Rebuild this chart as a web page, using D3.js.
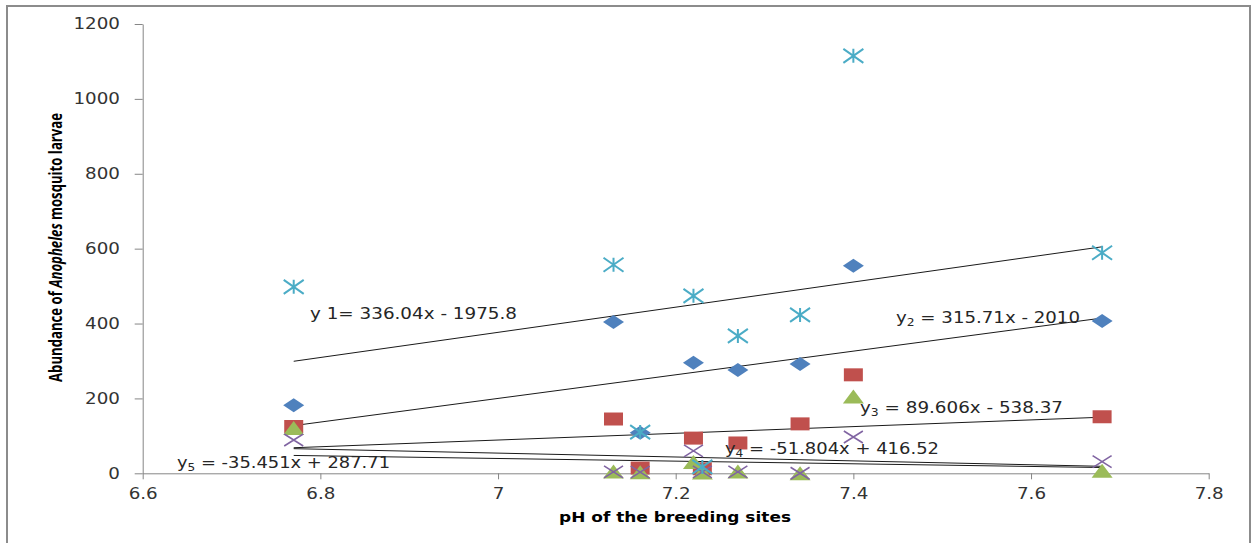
<!DOCTYPE html>
<html>
<head>
<meta charset="utf-8">
<script src="https://cdn.jsdelivr.net/npm/d3@7"></script>
<style>
  html, body { margin: 0; padding: 0; background: #fff; }
  svg { display: block; }
</style>
</head>
<body>
<svg id="chart" width="1259" height="543"></svg>
<script>
'use strict';

// pH of each breeding site (x)
const phSites = [6.77, 7.13, 7.16, 7.22, 7.23, 7.27, 7.34, 7.40, 7.68];

// larval abundance per series
const diamondVals = [182, 404, 108, 295, null, 276, 292, 554, 407];
const squareVals = [125, 145, 14, 94, 12, 81, 132, 263, 151];
const triangleVals = [121, 5, 3, 30, 2, 5, 0, 205, 7];
const crossVals = [89, 4, 3, 60, 4, 4, 0, 97, 31];
const starVals = [498, 557, 110, 474, 17, 367, 423, 1115, 589];

// trendlines: slope, intercept, label parts
const trendSlopes = [336.04, 315.71, 89.606, -51.804, -35.451];
const trendIntercepts = [-1975.8, -2010, -538.37, 416.52, 287.71];
const trendLabels = [
  ['y 1= 336.04x - 1975.8', ''],
  ['y', '2', ' = 315.71x - 2010'],
  ['y', '3', ' = 89.606x - 538.37'],
  ['y', '4', ' = -51.804x + 416.52'],
  ['y', '5', ' = -35.451x + 287.71']
];

const xTicks = [6.6, 6.8, 7, 7.2, 7.4, 7.6, 7.8];
const yTicks = [0, 200, 400, 600, 800, 1000, 1200];

const svg = d3.select('#chart');

const x = d3.scaleLinear().domain([6.6, 7.8]).range([142.7, 1208.7]);
const y = d3.scaleLinear().domain([0, 1200]).range([473.3, 24]);

// outer frame
svg.append('rect')
  .attr('x', 7).attr('y', 6)
  .attr('width', 1243).attr('height', 600)
  .attr('fill', 'none')
  .attr('stroke', '#8c8c8c')
  .attr('stroke-width', 2);

// stretch text horizontally like the original picture
function stretch(sel, k) {
  sel.each(function () {
    const w = this.getComputedTextLength();
    d3.select(this)
      .attr('textLength', w * k)
      .attr('lengthAdjust', 'spacingAndGlyphs');
  });
}

const font = 'DejaVu Sans, Verdana, sans-serif';

const yAxis = svg.append('g')
  .attr('transform', `translate(${x.range()[0]},0)`)
  .call(d3.axisLeft(y).tickValues(yTicks).tickSize(8).tickPadding(14.7).tickSizeOuter(0)
    .tickFormat(d => String(d)));

const xAxis = svg.append('g')
  .attr('transform', `translate(0,${y.range()[0]})`)
  .call(d3.axisBottom(x).tickValues(xTicks).tickSize(6).tickPadding(8.5).tickSizeOuter(0)
    .tickFormat(d => String(d)));

[yAxis, xAxis].forEach(a => {
  a.select('.domain').attr('stroke', '#868686');
  a.selectAll('.tick line').attr('stroke', '#868686');
  a.selectAll('.tick text')
    .attr('font-family', font)
    .attr('font-size', 15.5)
    .attr('fill', '#333');
  stretch(a.selectAll('.tick text'), 1.18);
});

// trendlines
const fitRange = [d3.min(phSites), d3.max(phSites)];
svg.append('g')
  .selectAll('line')
  .data(trendSlopes)
  .enter().append('line')
  .attr('x1', x(fitRange[0]))
  .attr('x2', x(fitRange[1]))
  .attr('y1', (d, i) => y(d * fitRange[0] + trendIntercepts[i]))
  .attr('y2', (d, i) => y(d * fitRange[1] + trendIntercepts[i]))
  .attr('stroke', '#1a1a1a')
  .attr('stroke-width', 1);

// markers
function pts(vals) {
  return phSites.map((p, i) => ({ p, v: vals[i] })).filter(d => d.v != null);
}

const diamond = (w, h) => `M0,${-h / 2}L${w / 2},0L0,${h / 2}L${-w / 2},0Z`;
const square = (w, h) => `M${-w / 2},${-h / 2}h${w}v${h}h${-w}Z`;
const triangle = (w, h) => `M0,${-h / 2}L${w / 2},${h / 2}L${-w / 2},${h / 2}Z`;
const cross = (w, h) => `M${-w / 2},${-h / 2}L${w / 2},${h / 2}M${w / 2},${-h / 2}L${-w / 2},${h / 2}`;
const star = (w, h) => cross(w, h) + `M0,${-h / 2}V${h / 2}`;

const seriesDefs = [
  { vals: diamondVals, d: diamond(21, 14), fill: '#4F81BD' },
  { vals: squareVals, d: square(19, 13), fill: '#C0504D' },
  { vals: triangleVals, d: triangle(21, 14), fill: '#9BBB59' },
  { vals: crossVals, d: cross(19, 12), stroke: '#8064A2', sw: 1.6 },
  { vals: starVals, d: star(20, 14), stroke: '#4BACC6', sw: 2 }
];

seriesDefs.forEach(s => {
  svg.append('g')
    .selectAll('path')
    .data(pts(s.vals))
    .enter().append('path')
    .attr('transform', d => `translate(${x(d.p)},${y(d.v)})`)
    .attr('d', s.d)
    .attr('fill', s.fill || 'none')
    .attr('stroke', s.stroke || 'none')
    .attr('stroke-width', s.sw || 0);
});

// equation labels
const labelPos = [[310, 319, 207], [896, 323, 184], [860, 412.5, 203], [725, 454, 214], [177, 468, 213]];
trendLabels.forEach((parts, i) => {
  const t = svg.append('text')
    .attr('x', labelPos[i][0])
    .attr('y', labelPos[i][1])
    .attr('font-family', font)
    .attr('font-size', 15.5)
    .attr('fill', '#262626');
  if (parts.length === 2) {
    t.text(parts[0]);
  } else {
    t.append('tspan').text(parts[0]);
    t.append('tspan').attr('font-size', 10.5).attr('dy', 3).text(parts[1]);
    t.append('tspan').attr('dy', -3).text(parts[2]);
  }
  t.attr('textLength', labelPos[i][2]).attr('lengthAdjust', 'spacingAndGlyphs');
});

// axis titles
svg.append('text')
  .attr('x', 675)
  .attr('y', 521.5)
  .attr('text-anchor', 'middle')
  .attr('font-family', font)
  .attr('font-weight', 'bold')
  .attr('font-size', 14)
  .attr('fill', '#000')
  .attr('textLength', 232)
  .attr('lengthAdjust', 'spacingAndGlyphs')
  .text('pH of the breeding sites');

const yTitle = svg.append('text')
  .attr('transform', 'translate(62,247.5) rotate(-90)')
  .attr('text-anchor', 'middle')
  .attr('font-family', 'Liberation Sans Narrow, Open Sans, sans-serif')
  .attr('font-weight', 'bold')
  .attr('font-size', 17)
  .attr('fill', '#000')
  .attr('textLength', 269)
  .attr('lengthAdjust', 'spacingAndGlyphs');
yTitle.append('tspan').text('Abundance of ');
yTitle.append('tspan').attr('font-style', 'italic').text('Anopheles');
yTitle.append('tspan').text(' mosquito larvae');
</script>
</body>
</html>
